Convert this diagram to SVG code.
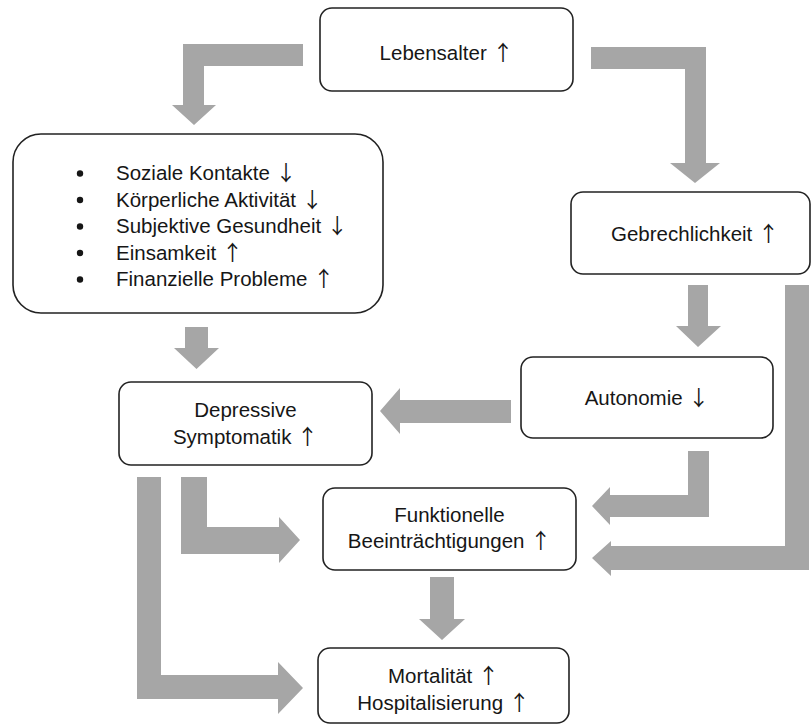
<svg xmlns="http://www.w3.org/2000/svg" width="812" height="726" viewBox="0 0 812 726">
  <style>
    .box { fill: #ffffff; stroke: #222222; stroke-width: 1.6; }
    .arrow { fill: #a6a6a6; stroke: none; }
    text { font-family: "Liberation Sans", Arial, sans-serif; font-size: 20.5px; fill: #161616; }
    .c { text-anchor: middle; }
    .ar { font-family: "Noto Sans CJK JP", "Noto Sans CJK SC", sans-serif; font-size: 21px; fill: #161616; }
  </style>
  <rect width="812" height="726" fill="#ffffff"/>

  <!-- connectors: broad grey block arrows -->
  <g id="connectors">
    <!-- Lebensalter -> list box -->
    <polygon class="arrow" points="303,44 183,44 183,105 172,105 194,125 216,105 204,105 204,66 303,66"/>
    <!-- Lebensalter -> Gebrechlichkeit -->
    <polygon class="arrow" points="591,47 706,47 706,163 720,163 695,183 670,163 685,163 685,69 591,69"/>
    <!-- list box -> Depressive Symptomatik -->
    <polygon class="arrow" points="185,327 208,327 208,348 219,348 196.5,369 174,348 185,348"/>
    <!-- Gebrechlichkeit -> Autonomie -->
    <polygon class="arrow" points="688,285 708,285 708,326 721,326 698,347 676,326 688,326"/>
    <!-- Autonomie -> Depressive Symptomatik -->
    <polygon class="arrow" points="511,400 400,400 400,388 380,411 400,434 400,423 511,423"/>
    <!-- Autonomie -> Funktionelle Beeinträchtigungen -->
    <polygon class="arrow" points="688,451 709,451 709,517 610,517 610,525 592,506 610,487 610,495 688,495"/>
    <!-- Gebrechlichkeit -> Funktionelle Beeinträchtigungen -->
    <polygon class="arrow" points="785,285 809,285 809,570 611,570 611,576 592,558 611,541 611,546 785,546"/>
    <!-- Depressive Symptomatik -> Funktionelle Beeinträchtigungen -->
    <polygon class="arrow" points="181,477 207,477 207,527 279,527 279,517 300,540 279,563 279,554 181,554"/>
    <!-- Depressive Symptomatik -> Mortalität / Hospitalisierung -->
    <polygon class="arrow" points="137,477 161,477 161,675 278,675 278,662 303,688 278,714 278,699 137,699"/>
    <!-- Funktionelle Beeinträchtigungen -> Mortalität / Hospitalisierung -->
    <polygon class="arrow" points="430,577 454,577 454,619 465,619 442,640 419,619 430,619"/>
  </g>

  <g id="lebensalter">
    <rect class="box" x="320" y="8" width="253" height="83" rx="12"/>
    <text class="c" x="446.5" y="60">Lebensalter <tspan class="ar">↑</tspan></text>
  </g>

  <g id="risikofaktoren">
    <rect class="box" x="13" y="134" width="370" height="179" rx="28"/>
    <g fill="#161616">
      <circle cx="80" cy="173.5" r="3.2"/>
      <circle cx="80" cy="200" r="3.2"/>
      <circle cx="80" cy="226.5" r="3.2"/>
      <circle cx="80" cy="253" r="3.2"/>
      <circle cx="80" cy="279.5" r="3.2"/>
    </g>
    <text x="116" y="180">Soziale Kontakte <tspan class="ar">↓</tspan></text>
    <text x="116" y="206.5">Körperliche Aktivität <tspan class="ar">↓</tspan></text>
    <text x="116" y="233">Subjektive Gesundheit <tspan class="ar">↓</tspan></text>
    <text x="116" y="259.5">Einsamkeit <tspan class="ar">↑</tspan></text>
    <text x="116" y="286">Finanzielle Probleme <tspan class="ar">↑</tspan></text>
  </g>

  <g id="gebrechlichkeit">
    <rect class="box" x="571" y="192" width="239" height="82" rx="12"/>
    <text class="c" x="695" y="241">Gebrechlichkeit <tspan class="ar">↑</tspan></text>
  </g>

  <g id="autonomie">
    <rect class="box" x="521" y="357" width="252" height="81" rx="12"/>
    <text class="c" x="647" y="405">Autonomie <tspan class="ar">↓</tspan></text>
  </g>

  <g id="depressive-symptomatik">
    <rect class="box" x="119" y="382" width="253" height="83" rx="12"/>
    <text class="c" x="245.5" y="417">Depressive</text>
    <text class="c" x="245.5" y="444">Symptomatik <tspan class="ar">↑</tspan></text>
  </g>

  <g id="funktionelle-beeintraechtigungen">
    <rect class="box" x="323" y="488" width="253" height="82" rx="12"/>
    <text class="c" x="449.5" y="522">Funktionelle</text>
    <text class="c" x="449.5" y="548">Beeinträchtigungen <tspan class="ar">↑</tspan></text>
  </g>

  <g id="mortalitaet">
    <rect class="box" x="318" y="648" width="251" height="75" rx="12"/>
    <text class="c" x="443.5" y="683">Mortalität <tspan class="ar">↑</tspan></text>
    <text class="c" x="443.5" y="710">Hospitalisierung <tspan class="ar">↑</tspan></text>
  </g>
</svg>
